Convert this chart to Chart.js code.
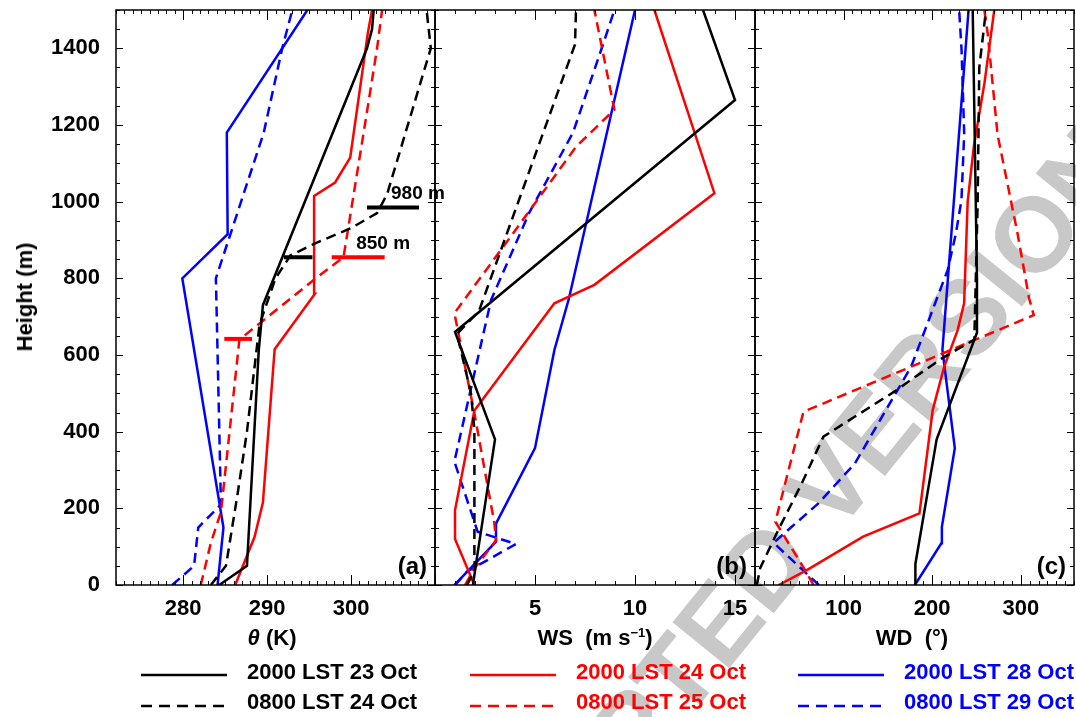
<!DOCTYPE html>
<html>
<head>
<meta charset="utf-8">
<script src="https://cdn.jsdelivr.net/npm/chart.js@4.4.1/dist/chart.umd.min.js"></script>
<style>
body { margin: 0; background: #fff; }
#wrap { position: relative; width: 1076px; height: 717px; overflow: hidden; font-family: "Liberation Sans", Arial, sans-serif; }
canvas { position: absolute; left: 0; top: 0; }
#watermark { position: absolute; left: 765px; top: 566px; transform: translate(-50%, -50%) rotate(-51deg);
  font-size: 106px; font-weight: bold; color: #c8c8c8; white-space: nowrap; }
.axTitle { position: absolute; transform: translate(-50%, -50%); font-size: 22px; font-weight: bold; white-space: nowrap; }
.legText { position: absolute; transform: translateY(-50%); font-size: 22px; font-weight: bold; white-space: nowrap; }
.legLine { position: absolute; }
</style>
</head>
<body>
<div id="wrap">
  <div id="watermark">ACCEPTED VERSION</div>
  <canvas id="chartA" width="1076" height="717"></canvas>
  <canvas id="chartB" width="1076" height="717"></canvas>
  <canvas id="chartC" width="1076" height="717"></canvas>
  <div class="axTitle" style="left:25px;top:297px;transform:translate(-50%,-50%) rotate(-90deg)">Height (m)</div>
  <div class="axTitle" style="left:272px;top:638px"><i>θ</i> (K)</div>
  <div class="axTitle" style="left:595px;top:638px">WS&nbsp; (m s<sup style="font-size:13px">−1</sup>)</div>
  <div class="axTitle" style="left:912px;top:638px">WD&nbsp; (°)</div>
  <div id="legend"></div>
</div>
<script>
// axis ticks
const heightTicks = [0, 200, 400, 600, 800, 1000, 1200, 1400];
const thetaTicks = [280, 290, 300];
const wsTicks = [5, 10, 15];
const wdTicks = [100, 200, 300];

const seriesLabels = ['2000 LST 23 Oct', '0800 LST 24 Oct', '2000 LST 24 Oct', '0800 LST 25 Oct', '2000 LST 28 Oct', '0800 LST 29 Oct'];
const seriesColors = ['#000000', '#000000', '#ff0000', '#ff0000', '#0000ff', '#0000ff'];
const seriesDashed = [false, true, false, true, false, true];

// (a) potential temperature (K)
const thH_23 = [0, 50, 610, 730, 1400, 1450, 1500];
const th_23 = [284.3, 287.6, 289.0, 289.5, 301.9, 302.5, 302.7];
const thH_24m = [0, 50, 240, 400, 680, 800, 860, 890, 930, 970, 1020, 1400, 1500];
const th_24m = [283.3, 285.1, 286.5, 287.6, 289.1, 291.0, 292.8, 295.6, 299.9, 303.1, 304.3, 309.5, 309.0];
const thH_24e = [0, 125, 215, 615, 760, 1015, 1050, 1115, 1440, 1500];
const th_24e = [286.2, 288.5, 289.5, 290.9, 295.7, 295.6, 298.1, 299.9, 302.0, 302.5];
const thH_25m = [0, 110, 190, 640, 800, 855, 1180, 1400, 1500];
const th_25m = [282.1, 283.3, 284.5, 286.7, 295.8, 299.1, 301.5, 303.1, 303.7];
const thH_28e = [0, 150, 800, 915, 1180, 1500];
const th_28e = [284.1, 284.8, 279.9, 285.3, 285.2, 294.8];
const thH_29m = [0, 50, 150, 210, 800, 1180, 1400, 1500];
const th_29m = [278.7, 281.3, 281.8, 284.5, 283.9, 289.6, 291.8, 293.0];

// boundary layer height marks in (a)
const markH = [985, 855, 855, 642];
const markFrom = [301.9, 297.7, 292.0, 284.9];
const markTo = [308.1, 304.0, 295.4, 288.2];
const markSeries = [1, 3, 0, 3];
const markLabels = ['980 m', '850 m', '', ''];

// (b) wind speed (m/s)
const wsH_23 = [0, 55, 380, 660, 1265, 1500];
const ws_23 = [1.9, 2.05, 3.0, 1.0, 15.0, 13.4];
const wsH_24m = [0, 40, 75, 405, 500, 655, 715, 1410, 1500];
const ws_24m = [1.6, 2.0, 1.97, 1.97, 1.8, 1.1, 2.2, 7.0, 7.05];
const wsH_24e = [0, 120, 195, 455, 735, 783, 1022, 1500];
const ws_24e = [1.97, 1.0, 1.0, 1.97, 5.97, 7.97, 13.97, 10.97];
const wsH_25m = [0, 43, 117, 161, 448, 709, 761, 917, 1143, 1240, 1500];
const ws_25m = [1.5, 1.97, 3.05, 2.97, 1.97, 0.97, 1.7, 3.9, 7.05, 8.97, 7.97];
const wsH_28e = [0, 113, 160, 357, 613, 748, 1500];
const ws_28e = [0.97, 3.05, 3.05, 5.0, 5.97, 6.7, 10.0];
const wsH_29m = [0, 35, 107, 139, 322, 743, 970, 1180, 1410, 1500];
const ws_29m = [1.0, 1.6, 4.05, 2.13, 0.97, 2.8, 4.7, 6.9, 8.4, 8.97];

// (c) wind direction (deg)
const wdH_23 = [0, 55, 380, 658, 800, 1500];
const wd_23 = [181, 181, 205, 250.5, 250.5, 245.7];
const wdH_24m = [0, 45, 145, 265, 387, 505, 590, 640, 1000, 1350, 1500];
const wd_24m = [2, 6, 26.6, 52.8, 77.2, 157.6, 210, 247.5, 251.3, 253.1, 260.7];
const wdH_24e = [0, 39, 126, 187, 457, 570, 665, 735, 1000, 1145, 1310, 1500];
const wd_24e = [26.7, 58.5, 122, 185.6, 200.6, 213.6, 228.7, 236, 240, 247, 259, 270];
const wdH_25m = [0, 39, 165, 452, 604, 704, 748, 917, 1174, 1439, 1500];
const wd_25m = [66, 56.5, 23, 54.7, 211.8, 314.6, 309.3, 296.3, 273.8, 262.6, 258.8];
const wdH_28e = [0, 109, 152, 357, 613, 1500];
const wd_28e = [180.5, 210.3, 210.9, 225.5, 211.5, 241];
const wdH_29m = [0, 110, 213, 317, 570, 822, 917, 1004, 1178, 1396, 1500];
const wd_29m = [72, 21, 71.5, 112.7, 176.3, 217.5, 226.7, 233, 236.1, 233.1, 230.4];

const FONT = '"Liberation Sans", Arial, sans-serif';
Chart.defaults.font.family = FONT;
Chart.defaults.color = '#000';

function profile(heights, values) {
    return heights.map((h, k) => ({x: values[k], y: h}));
}

// frame, inward tick marks and panel texts
const frameTicks = {
    id: 'frameTicks',
    afterDraw(chart, args, o) {
        const {ctx, chartArea: a, scales: {x, y}} = chart;
        ctx.save();
        ctx.strokeStyle = '#000';
        ctx.lineWidth = 1;
        const line = (x1, y1, x2, y2) => { ctx.beginPath(); ctx.moveTo(x1, y1); ctx.lineTo(x2, y2); ctx.stroke(); };
        const nx = Math.round((x.max - x.min) / o.xMinor);
        for (let k = 0; k <= nx; k++) {
            const v = x.min + k * o.xMinor;
            const px = Math.round(x.getPixelForValue(v)) + 0.5;
            const len = Math.abs(v % o.xMajor) < 1e-6 ? 10 : 4;
            line(px, a.bottom, px, a.bottom - len);
            line(px, a.top, px, a.top + len);
        }
        for (let v = 0; v <= 1500; v += 50) {
            const py = Math.round(y.getPixelForValue(v)) + 0.5;
            const len = v % 200 === 0 ? 7 : 4;
            line(a.left, py, a.left + len, py);
            line(a.right, py, a.right - len, py);
        }
        ctx.lineWidth = 1.5;
        ctx.strokeRect(a.left, a.top, a.right - a.left, a.bottom - a.top);

        ctx.fillStyle = '#000';
        ctx.font = 'bold 24px ' + FONT;
        ctx.textAlign = 'right';
        ctx.textBaseline = 'middle';
        ctx.fillText(o.tag, a.right - 8, a.bottom - 18);

        if (o.marks) {
            ctx.font = 'bold 19px ' + FONT;
            ctx.textAlign = 'left';
            ctx.textBaseline = 'bottom';
            markLabels.forEach((t, i) => {
                if (!t) return;
                const px = x.getPixelForValue((markFrom[i] + markTo[i]) / 2);
                const py = y.getPixelForValue(markH[i]);
                ctx.fillText(t, px - 2, py - 4);
            });
        }
        ctx.restore();
    }
};

function makePanel(id, cfg) {
    const datasets = cfg.series.map((s, i) => ({
        label: seriesLabels[i],
        data: profile(s[0], s[1]),
        borderColor: seriesColors[i],
        borderWidth: 2.5,
        borderDash: seriesDashed[i] ? [10, 6] : [],
        pointRadius: 0,
        showLine: true,
        fill: false,
        tension: 0
    }));
    if (cfg.marks) {
        markH.forEach((h, i) => {
            datasets.push({
                data: [{x: markFrom[i], y: h}, {x: markTo[i], y: h}],
                borderColor: seriesColors[markSeries[i]],
                borderWidth: 4,
                pointRadius: 0,
                showLine: true
            });
        });
    }
    return new Chart(document.getElementById(id), {
        type: 'scatter',
        data: {datasets},
        plugins: [frameTicks],
        options: {
            responsive: false,
            animation: false,
            events: [],
            layout: {padding: {left: cfg.padL, right: cfg.padR, top: 10, bottom: 0}},
            plugins: {
                legend: {display: false},
                tooltip: {enabled: false},
                frameTicks: {xMinor: cfg.xMinor, xMajor: cfg.xMajor, tag: cfg.tag, marks: cfg.marks}
            },
            scales: {
                x: {
                    type: 'linear', min: cfg.xMin, max: cfg.xMax,
                    grid: {display: false, drawTicks: false},
                    border: {display: false},
                    ticks: {padding: 11, autoSkip: false, maxRotation: 0, font: {size: 22, weight: 'bold'},
                        callback: v => String(v)},
                    afterBuildTicks: s => { s.ticks = cfg.xTicks.map(v => ({value: v})); },
                    afterFit: s => { s.height = 132; s.paddingLeft = 0; s.paddingRight = 0; }
                },
                y: {
                    type: 'linear', min: 0, max: 1500,
                    display: cfg.showY,
                    grid: {display: false, drawTicks: false},
                    border: {display: false},
                    ticks: {padding: 16, font: {size: 22, weight: 'bold'}, callback: v => String(v)},
                    afterBuildTicks: s => { s.ticks = heightTicks.map(v => ({value: v})); },
                    afterFit: s => { s.width = cfg.showY ? 116 : 0; s.paddingTop = 0; s.paddingBottom = 0; }
                }
            }
        }
    });
}

makePanel('chartA', {
    xMin: 272, xMax: 310, xMinor: 1, xMajor: 10, xTicks: thetaTicks,
    padL: 0, padR: 641, showY: true, tag: '(a)', marks: true,
    series: [[thH_23, th_23], [thH_24m, th_24m], [thH_24e, th_24e], [thH_25m, th_25m], [thH_28e, th_28e], [thH_29m, th_29m]]
});
makePanel('chartB', {
    xMin: 0, xMax: 16, xMinor: 1, xMajor: 5, xTicks: wsTicks,
    padL: 435, padR: 321, showY: false, tag: '(b)', marks: false,
    series: [[wsH_23, ws_23], [wsH_24m, ws_24m], [wsH_24e, ws_24e], [wsH_25m, ws_25m], [wsH_28e, ws_28e], [wsH_29m, ws_29m]]
});
makePanel('chartC', {
    xMin: 0, xMax: 360, xMinor: 10, xMajor: 100, xTicks: wdTicks,
    padL: 755, padR: 2, showY: false, tag: '(c)', marks: false,
    series: [[wdH_23, wd_23], [wdH_24m, wd_24m], [wdH_24e, wd_24e], [wdH_25m, wd_25m], [wdH_28e, wd_28e], [wdH_29m, wd_29m]]
});

// legend below the panels: three columns, two rows
const legCols = [141, 470, 798];
const legRowsLine = [675, 706];
const legRowsText = [672, 702];
const legend = document.getElementById('legend');
seriesLabels.forEach((t, i) => {
    const col = Math.floor(i / 2), row = i % 2;
    const x0 = legCols[col];
    const svg = document.createElementNS('http://www.w3.org/2000/svg', 'svg');
    svg.setAttribute('class', 'legLine');
    svg.setAttribute('width', 90);
    svg.setAttribute('height', 8);
    svg.style.left = x0 + 'px';
    svg.style.top = (legRowsLine[row] - 4) + 'px';
    const ln = document.createElementNS('http://www.w3.org/2000/svg', 'line');
    ln.setAttribute('x1', 0); ln.setAttribute('x2', 86);
    ln.setAttribute('y1', 4); ln.setAttribute('y2', 4);
    ln.setAttribute('stroke', seriesColors[i]);
    ln.setAttribute('stroke-width', 2.5);
    if (seriesDashed[i]) ln.setAttribute('stroke-dasharray', '11 7');
    svg.appendChild(ln);
    legend.appendChild(svg);
    const span = document.createElement('div');
    span.className = 'legText';
    span.textContent = t;
    span.style.color = seriesColors[i];
    span.style.left = (x0 + 106) + 'px';
    span.style.top = legRowsText[row] + 'px';
    legend.appendChild(span);
});
</script>
</body>
</html>
